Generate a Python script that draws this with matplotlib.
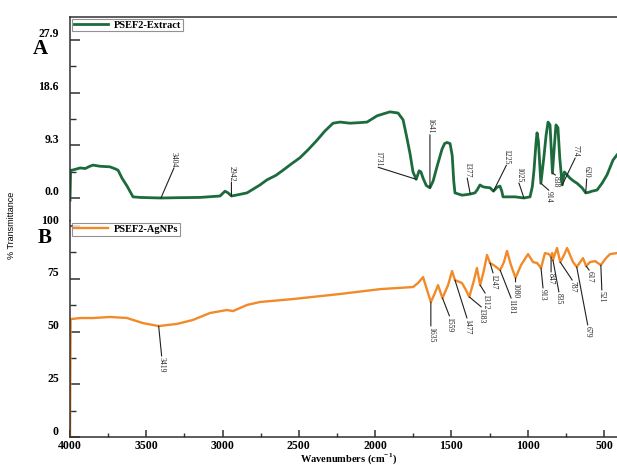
#!/usr/bin/env python

"""
plot_ftir.py
============

Stacked FTIR spectra: plant extract (A) and the silver nanoparticles (B).

"""

import numpy as np
import matplotlib
matplotlib.use("Agg")
import matplotlib.pyplot as plt
import matplotlib.transforms as mtransforms


# --- spectrum A: PSEF2-Extract ---
extract_wn = [4000, 3996, 3987, 3960, 3934, 3900, 3870, 3849, 3803, 3738,
              3700, 3685, 3659, 3626, 3587, 3541, 3480, 3404, 3300, 3148,
              3017, 2984, 2964, 2942, 2912, 2840, 2755, 2709, 2650, 2604,
              2550, 2493, 2440, 2381, 2330, 2276, 2230, 2165, 2100, 2053,
              1988, 1940, 1903, 1850, 1817, 1795, 1772, 1752, 1731, 1712,
              1700, 1686, 1665, 1641, 1620, 1595, 1562, 1545, 1529, 1509,
              1495, 1485, 1477, 1431, 1400, 1377, 1346, 1330, 1313, 1295,
              1280, 1247, 1225, 1201, 1182, 1170, 1162, 1083, 1025, 985,
              970, 959, 945, 939, 930, 914, 895, 880, 867, 854,
              838, 826, 815, 802, 790, 774, 760, 740, 723, 700,
              677, 644, 620, 600, 579, 546, 513, 480, 441, 415]
extract_t = [-0.4, 4.9, 4.9, 5.1, 5.3, 5.2, 5.6, 5.8, 5.6, 5.5,
             5.1, 4.9, 3.5, 2.1, 0.2, 0.1, 0.05, 0.0, 0.05, 0.1,
             0.35, 1.2, 0.9, 0.35, 0.5, 0.9, 2.3, 3.2, 4.0, 4.9,
             6.0, 7.1, 8.5, 10.2, 11.8, 13.2, 13.4, 13.2, 13.3, 13.4,
             14.5, 14.9, 15.2, 15.0, 13.8, 11.0, 7.9, 4.6, 3.3, 4.8,
             4.6, 3.5, 2.2, 1.8, 3.0, 5.5, 8.6, 9.6, 9.8, 9.6,
             7.5, 3.0, 0.9, 0.5, 0.6, 0.7, 0.9, 1.5, 2.3, 2.0,
             1.9, 1.8, 1.2, 1.9, 2.1, 1.2, 0.2, 0.2, 0.0, 0.2,
             2.0, 4.9, 10.0, 11.5, 10.0, 2.6, 7.0, 11.0, 13.4, 12.9,
             4.4, 9.0, 12.9, 12.4, 7.0, 2.3, 4.6, 4.0, 3.5, 3.0,
             2.6, 1.8, 0.9, 1.0, 1.2, 1.4, 2.6, 4.1, 6.7, 7.6]
extract_peaks = [3404, 2942, 1731, 1641, 1377, 1225, 1025, 914, 838, 774, 620]

# --- spectrum B: PSEF2-AgNPs ---
agnp_wn = [4000, 3996, 3934, 3849, 3738, 3626, 3522, 3419, 3299, 3194,
           3082, 2971, 2932, 2840, 2755, 2538, 2230, 1968, 1752, 1719,
           1686, 1660, 1635, 1614, 1588, 1559, 1522, 1496, 1477, 1431,
           1405, 1383, 1352, 1333, 1312, 1287, 1267, 1247, 1214, 1181,
           1156, 1136, 1110, 1080, 1044, 998, 965, 939, 913, 887,
           861, 847, 840, 835, 808, 787, 762, 742, 723, 703,
           679, 638, 617, 592, 559, 521, 487, 461, 415]
agnp_t = [0.0, 55.9, 56.4, 56.4, 56.9, 56.4, 54.0, 52.6, 53.6, 55.5,
          58.8, 60.2, 59.7, 62.6, 64.0, 65.4, 67.8, 70.1, 71.1, 73.0,
          75.8, 69.7, 64.0, 67.3, 72.0, 65.9, 72.0, 78.7, 74.4, 73.0,
          69.7, 66.4, 74.4, 80.1, 72.0, 79.1, 86.3, 82.5, 81.0, 79.1,
          82.9, 88.2, 81.5, 75.4, 81.5, 86.7, 82.9, 82.5, 80.1, 87.2,
          86.7, 85.3, 87.2, 83.9, 89.6, 82.9, 86.3, 89.6, 86.3, 82.9,
          80.6, 84.8, 81.0, 82.9, 83.4, 81.5, 84.8, 86.7, 87.2]
agnp_peaks = [3419, 1635, 1559, 1477, 1383, 1312, 1247, 1181, 1080,
              913, 847, 835, 787, 679, 617, 521]

# where each peak label sits, pixel offset from the curve point
extract_offsets = [(13, 30), (0, 14), (-38, 12), (0, 53), (-3, 16), (13, 26),
                   (-5, 15), (8, -7), (3, -2), (13, 27), (1, 14)]
agnp_offsets = [(3, -30), (0, -24), (7, -18), (12, -38), (12, -10), (5, -8),
                (3, -10), (11, -28), (0, -4), (2, -20), (0, -15), (6, -32),
                (12, -18), (11, -58), (3, -4), (1, -25)]

GREEN = "#1c6b3c"
ORANGE = "#f28a2a"
SPINE = "#303030"
INK = "#202020"


def label_peaks(ax, wn, t, peaks, offsets):
    xp = np.array(wn[::-1], dtype=float)
    yp = np.array(t[::-1], dtype=float)
    for pk, (dx, dy) in zip(peaks, offsets):
        y = np.interp(pk, xp, yp)
        # leader line from the band to the label
        ax.annotate("", xy=(pk, y), xytext=(dx, dy),
                    textcoords="offset pixels",
                    arrowprops=dict(arrowstyle="-", lw=0.8, color=INK,
                                    shrinkA=0, shrinkB=0))
        ax.annotate(str(pk), xy=(pk, y),
                    xytext=(dx, dy + (1 if dy > 0 else -1)),
                    textcoords="offset pixels", rotation=270,
                    ha="center", va="bottom" if dy > 0 else "top",
                    fontsize=5.5, color=INK)


def style_axis(ax, fig, major, minor, fmt):
    ax.set_yticks(major)
    ax.set_yticks(minor, minor=True)
    ax.set_yticklabels([fmt % v for v in major])
    ax.tick_params(axis="y", which="major", direction="in", length=7,
                   width=1.1, pad=8, labelsize=8.5, color=SPINE)
    ax.tick_params(axis="y", which="minor", direction="in", length=4,
                   width=1.0, color=SPINE)
    ax.spines["right"].set_visible(False)
    for sp in ax.spines.values():
        sp.set_linewidth(1.1)
        sp.set_color(SPINE)
    # tick labels in this style sit a little above their ticks
    shift = mtransforms.ScaledTranslation(0, 0.07, fig.dpi_scale_trans)
    for lab in ax.get_yticklabels():
        lab.set_transform(lab.get_transform() + shift)
        lab.set_fontweight("bold")


def main():
    plt.rcParams["font.family"] = ["Liberation Serif", "DejaVu Serif"]
    plt.rcParams["mathtext.fontset"] = "custom"
    plt.rcParams["mathtext.bf"] = "Liberation Serif:bold"

    fig = plt.figure(figsize=(6.17, 4.65), dpi=100)
    left = 70 / 617.
    axA = fig.add_axes([left, 1 - 221 / 465., 1 - left, 204 / 465.])
    axB = fig.add_axes([left, 1 - 437 / 465., 1 - left, 216 / 465.],
                       sharex=axA)

    axA.plot(extract_wn, extract_t, color=GREEN, lw=2.0,
             label="PSEF2-Extract", solid_joinstyle="round")
    axB.plot(agnp_wn, agnp_t, color=ORANGE, lw=1.7,
             label="PSEF2-AgNPs", solid_joinstyle="round")

    axA.set_xlim(4000, 415)
    axA.set_ylim(-4.06, 31.94)
    axB.set_ylim(0, 102.4)

    style_axis(axA, fig, [0, 9.3, 18.6, 27.9], [4.65, 13.95, 23.25], "%.1f")
    style_axis(axB, fig, [0, 25, 50, 75, 100],
               [12.5, 37.5, 62.5, 87.5], "%d")
    axA.spines["bottom"].set_visible(False)
    axB.spines["top"].set_visible(False)
    axA.tick_params(axis="x", which="both", bottom=False, labelbottom=False)

    axB.set_xticks(np.arange(4000, 499, -500))
    axB.set_xticks(np.arange(3750, 499, -500), minor=True)
    axB.tick_params(axis="x", which="major", direction="in", length=5,
                    width=1.1, pad=2, labelsize=8.5, color=SPINE)
    axB.tick_params(axis="x", which="minor", direction="in", length=3,
                    width=1.0, color=SPINE)
    for lab in axB.get_xticklabels():
        lab.set_fontweight("bold")
    axB.set_xlabel(r"Wavenumbers (cm$^{\mathbf{-1}}$)", fontsize=7.5,
                   fontweight="bold")
    axB.xaxis.set_label_coords(0.51, -0.066)

    label_peaks(axA, extract_wn, extract_t, extract_peaks, extract_offsets)
    label_peaks(axB, agnp_wn, agnp_t, agnp_peaks, agnp_offsets)

    for ax in (axA, axB):
        leg = ax.legend(loc="upper left", bbox_to_anchor=(0.0, 1.0),
                        borderaxespad=0.2, fancybox=False, frameon=True,
                        handlelength=3.3, handletextpad=0.6, borderpad=0.15,
                        prop={"weight": "bold", "size": 7.5})
        leg.get_frame().set_edgecolor("#777777")
        leg.get_frame().set_linewidth(0.8)

    fig.text(40 / 617., 1 - 54 / 465., "A", fontsize=15, fontweight="bold",
             ha="center", va="baseline")
    fig.text(45 / 617., 1 - 243 / 465., "B", fontsize=15, fontweight="bold",
             ha="center", va="baseline")
    fig.text(12 / 617., 1 - 225 / 465., "% Transmittance", rotation=90,
             ha="center", va="center", fontsize=6.5,
             family=["Liberation Sans Narrow", "Liberation Sans"])

    fig.savefig("out.png", dpi=100)


if __name__ == "__main__":
    main()
